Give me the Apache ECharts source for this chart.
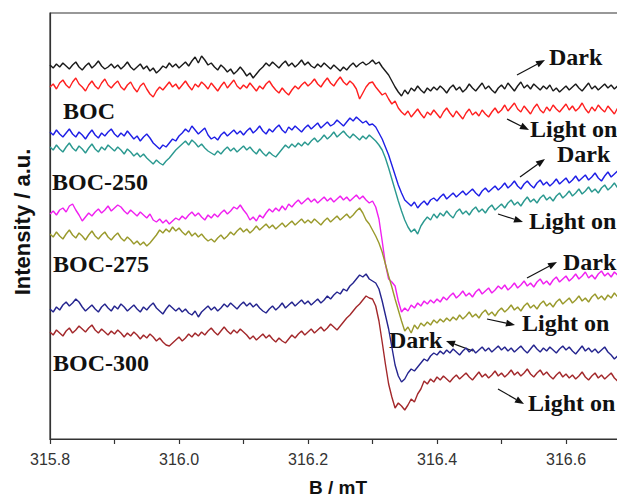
<!DOCTYPE html>
<html>
<head>
<meta charset="utf-8">
<script src="https://cdn.jsdelivr.net/npm/echarts@6/dist/echarts.min.js"></script>
<style>
html,body{margin:0;padding:0;background:#fff;overflow:hidden;}
#chart{width:700px;height:499px;}
</style>
</head>
<body>
<div id="chart"></div>
<script>
// field axis: first point and spacing (mT)
var bStart = 315.8;
var bStep = 0.005;

// EPR traces, arbitrary units (already offset for stacking)
var bocDark = [
 374,371,375,372,376,373,370,374,377,372,369,373,376,371,374,378,373,370,372,375,
 371,374,370,373,377,372,369,372,375,370,373,368,371,366,369,373,371,376,372,375,
 371,374,377,373,378,382,376,383,379,374,376,372,369,374,371,367,370,365,368,372,
 368,363,366,361,365,369,372,376,373,377,374,371,375,378,373,376,372,375,379,374,
 377,373,371,375,372,376,373,370,374,371,368,372,369,373,376,372,375,377,374,376,
 379,375,377,372,368,364,358,352,347,343,349,345,351,348,353,349,346,351,348,352,
 349,353,350,346,351,354,349,352,347,350,355,351,348,352,356,350,353,349,346,351,
 354,350,356,352,348,353,357,351,354,350,355,352,349,353,350,354,348,351,347,350,
 353,349,352,355,351,348,352,356,350,353,349,352,355,351,354,350,353,356,352,354];
var bocLight = [
 352,355,350,356,359,354,351,357,361,355,352,348,354,358,353,350,356,360,354,351,
 355,358,352,349,354,357,351,347,353,356,350,345,342,348,352,349,353,357,352,355,
 350,354,358,353,349,355,352,357,354,350,356,352,348,353,357,351,355,359,353,350,
 354,351,356,352,348,353,350,355,358,353,349,346,351,347,344,349,353,350,354,357,
 353,356,360,355,352,357,361,356,353,358,362,357,354,358,355,350,340,346,352,356,
 357,352,348,344,346,340,335,338,331,327,324,328,322,326,330,325,321,327,324,329,
 325,321,327,331,326,322,328,324,320,326,330,324,327,323,329,325,322,327,331,326,
 329,334,328,332,336,330,327,333,329,325,331,335,329,326,332,328,334,330,327,331,
 335,329,333,328,331,336,330,326,332,328,334,330,327,333,329,325,331,335,330,333];
var boc250Dark = [
 307,304,309,305,302,306,310,305,302,307,304,300,305,309,304,301,306,303,307,310,
 305,302,306,303,308,304,300,303,298,302,305,301,296,293,290,294,292,296,300,298,
 303,306,310,307,313,309,305,308,311,304,300,302,299,304,307,303,306,309,305,308,
 304,308,311,306,309,313,308,305,310,307,311,314,309,306,312,309,313,310,307,311,
 314,310,313,316,311,314,317,313,315,319,316,313,317,321,318,322,319,316,318,314,
 315,312,306,300,292,284,274,264,254,246,239,236,233,237,231,235,238,234,239,241,
 238,242,245,240,243,246,242,245,248,244,247,250,246,243,248,251,247,250,253,249,
 252,256,251,254,258,253,250,255,258,254,251,256,259,254,257,253,256,260,255,258,
 261,256,259,263,258,261,264,259,262,266,261,258,263,267,262,265,268,263,266,269];
var boc250Light = [
 292,289,294,290,287,292,296,291,288,293,290,286,291,295,290,287,292,289,294,291,
 288,292,289,285,290,287,283,286,282,285,281,278,275,279,276,274,278,281,285,289,
 292,295,298,294,299,296,292,295,291,288,286,284,288,285,289,292,288,291,287,290,
 293,289,292,288,285,290,286,283,287,284,282,286,290,294,291,295,292,296,293,297,
 294,298,301,297,300,304,300,303,307,302,305,308,304,301,305,302,299,303,300,304,
 301,298,294,289,281,271,260,249,238,228,219,212,207,210,205,213,218,222,219,225,
 221,226,223,228,224,221,227,230,225,228,224,229,232,227,230,226,231,234,229,232,
 235,231,236,239,234,237,233,238,242,237,240,236,241,244,239,242,238,243,246,241,
 244,248,243,246,250,245,248,252,247,250,246,251,254,249,252,256,251,254,250,253];
var boc275Dark = [
 225,228,224,229,231,227,233,235,229,224,218,222,226,223,227,230,226,229,233,228,
 231,234,232,228,225,229,226,223,227,224,221,225,219,217,220,216,219,215,218,221,
 219,223,220,224,227,223,226,222,219,224,221,225,222,226,229,225,228,232,230,234,
 229,225,219,222,218,224,221,226,230,227,231,228,233,229,235,232,236,239,235,238,
 241,237,240,236,239,242,238,241,237,240,243,239,242,238,241,244,240,243,239,236,
 238,232,220,198,175,160,157,153,138,127,131,128,134,131,136,133,138,135,139,136,
 140,137,142,139,143,146,141,144,148,143,146,142,147,150,145,148,151,146,149,153,
 150,154,149,152,156,151,154,158,153,156,152,157,160,155,158,154,159,162,157,160,
 163,158,161,165,160,163,167,161,164,160,165,168,163,166,162,167,164,168,165,163];
var boc275Light = [
 205,202,207,203,200,205,209,204,201,206,203,199,204,208,203,200,204,207,202,199,
 203,206,201,198,202,199,195,198,194,197,193,196,200,204,209,206,210,207,212,208,
 211,207,204,208,203,206,202,205,201,198,200,197,201,204,200,203,207,204,208,211,
 207,210,206,209,213,209,212,215,211,214,210,213,216,212,215,218,214,217,220,216,
 219,216,220,217,214,218,221,217,220,223,219,222,225,221,224,228,231,226,219,215,
 209,203,196,187,175,163,152,140,129,118,108,112,106,114,110,116,113,117,114,119,
 116,120,117,121,118,122,119,124,120,123,127,122,125,121,126,129,124,127,123,128,
 131,127,130,134,129,132,128,133,136,131,134,130,135,138,133,136,132,137,140,135,
 138,141,136,139,143,138,141,137,142,145,140,143,139,144,141,146,142,139,144,147];
var boc300Dark = [
 130,127,132,129,134,137,133,136,140,137,132,128,131,134,130,127,132,135,131,128,
 133,130,135,132,128,131,134,130,127,132,129,133,136,131,128,125,130,134,131,128,
 131,127,130,126,124,128,122,127,130,133,129,132,128,131,135,132,136,133,130,134,
 137,133,136,132,135,131,128,126,130,133,129,132,136,131,134,137,133,136,139,135,
 138,134,137,140,136,139,143,140,144,147,145,150,148,153,156,160,164,162,165,160,
 158,156,150,138,124,110,92,74,63,57,60,66,70,68,72,76,80,78,83,86,
 84,88,85,89,86,90,87,84,88,91,87,90,86,89,92,88,91,87,90,93,
 89,92,88,91,87,90,93,89,86,90,94,90,87,91,88,92,89,86,90,93,
 89,92,88,85,89,93,88,91,87,90,86,89,92,87,84,80,83,86,82,85];
var boc300Light = [
 107,104,109,106,103,108,111,106,109,113,110,107,111,114,109,106,110,107,104,108,
 105,109,106,102,106,103,107,104,100,104,101,105,102,98,101,97,94,93,96,99,
 102,98,101,105,102,106,103,107,104,108,111,107,104,108,112,108,105,109,106,110,
 107,104,100,103,99,102,105,101,104,100,97,101,98,96,100,104,101,105,108,104,
 107,110,106,109,112,108,111,115,112,109,113,117,121,124,128,132,135,139,143,141,
 140,133,118,97,75,55,42,31,36,33,29,34,40,37,45,50,58,55,60,57,
 62,59,63,60,57,61,64,60,63,66,62,59,63,67,62,65,61,64,68,63,
 66,62,65,69,64,67,63,66,70,65,62,66,69,64,67,63,60,64,67,62,
 65,61,64,60,63,67,62,59,63,66,61,64,60,63,66,61,58,62,65,61];

var traces = [
  {name: 'BOC Dark', data: bocDark, color: '#1a1a1a'},
  {name: 'BOC Light on', data: bocLight, color: '#ff1f1f'},
  {name: 'BOC-250 Dark', data: boc250Dark, color: '#1f1fe6'},
  {name: 'BOC-250 Light on', data: boc250Light, color: '#2b9990'},
  {name: 'BOC-275 Dark', data: boc275Dark, color: '#f020f0'},
  {name: 'BOC-275 Light on', data: boc275Light, color: '#9a9a2c'},
  {name: 'BOC-300 Dark', data: boc300Dark, color: '#25258f'},
  {name: 'BOC-300 Light on', data: boc300Light, color: '#a3282b'}
];

var sampleLabels = [['BOC', 63, 111], ['BOC-250', 52, 182], ['BOC-275', 53, 264], ['BOC-300', 53, 363]];
var stateLabels = [
  ['Dark', 549, 57], ['Light on', 530, 129],
  ['Dark', 557, 154], ['Light on', 529, 221],
  ['Dark', 563, 262], ['Light on', 522, 323],
  ['Dark', 389, 340], ['Light on', 528, 403]
];
var arrows = [
  [517, 75, 545, 60], [507, 119, 529, 130],
  [520, 177, 545, 159], [498, 214, 523, 222],
  [527, 278, 557, 262], [487, 319, 515, 325],
  [473, 351, 446, 341], [498, 389, 524, 404]
];

var mychart = echarts.init(document.getElementById('chart'), null, {renderer: 'svg'});

function toPairs(arr) {
  var out = [];
  for (var i = 0; i < arr.length; i++) {
    out.push([+(bStart + i * bStep).toFixed(3), arr[i]]);
  }
  return out;
}

function arrow(x1, y1, x2, y2) {
  var dx = x2 - x1, dy = y2 - y1, len = Math.sqrt(dx * dx + dy * dy);
  var ux = dx / len, uy = dy / len, hl = 9, hw = 3.5;
  var bx = x2 - ux * hl, by = y2 - uy * hl;
  return [
    {type: 'line', shape: {x1: x1, y1: y1, x2: bx, y2: by}, style: {stroke: '#111', lineWidth: 1.2}},
    {type: 'polygon', shape: {points: [[x2, y2], [bx - uy * hw, by + ux * hw], [bx + uy * hw, by - ux * hw]]}, style: {fill: '#111'}}
  ];
}

var graphics = [];
sampleLabels.forEach(function (s) {
  graphics.push({type: 'text', left: s[1], top: s[2] - 12,
    style: {text: s[0], font: 'bold 24px "Liberation Serif", "Times New Roman", serif', fill: '#111'}});
});
stateLabels.forEach(function (s) {
  graphics.push({type: 'text', left: s[1], top: s[2] - 12,
    style: {text: s[0], font: 'bold 24px "Liberation Serif", "Times New Roman", serif', fill: '#111'}});
});
arrows.forEach(function (a) {
  graphics = graphics.concat(arrow(a[0], a[1], a[2], a[3]));
});
// axis titles
graphics.push({type: 'text', x: 338, y: 487,
  style: {text: 'B / mT', font: 'bold 19px "Liberation Sans", Arial, sans-serif', fill: '#111', align: 'center', verticalAlign: 'middle'}});
graphics.push({type: 'text', x: 22, y: 222, rotation: Math.PI / 2,
  style: {text: 'Intensity / a.u.', font: 'bold 22px "Liberation Sans", Arial, sans-serif', fill: '#111', align: 'center', verticalAlign: 'middle'}});

// plot spans 315.8-316.8 mT; the window crops it near 316.69
var option = {
  animation: false,
  backgroundColor: '#fff',
  grid: {
    left: 50, top: 13, right: 5, bottom: 60,
    outerBoundsMode: 'none', containLabel: false,
    show: true, borderColor: '#333', borderWidth: 1.2
  },
  xAxis: {
    type: 'value',
    min: 315.8, max: 316.8, interval: 0.1,
    axisLine: {show: true, lineStyle: {color: '#333', width: 1.2}},
    axisTick: {show: true, inside: false, length: 5, lineStyle: {color: '#333', width: 1.2}},
    axisLabel: {
      margin: 12,
      color: '#333',
      fontFamily: '"Liberation Sans", Arial, sans-serif',
      fontSize: 16,
      formatter: function (v) {
        return (Math.round(v * 10) % 2 === 0 && v < 316.7) ? v.toFixed(1) : '';
      }
    },
    splitLine: {show: false}
  },
  yAxis: {
    type: 'value', min: 0, max: 426,
    axisLine: {show: true, lineStyle: {color: '#333', width: 1.2}},
    axisTick: {show: false},
    axisLabel: {show: false},
    splitLine: {show: false}
  },
  series: traces.map(function (t) {
    return {
      name: t.name,
      type: 'line',
      data: toPairs(t.data),
      showSymbol: false,
      lineStyle: {color: t.color, width: 1.4},
      itemStyle: {color: t.color}
    };
  }),
  graphic: graphics
};
mychart.setOption(option);
</script>
</body>
</html>
